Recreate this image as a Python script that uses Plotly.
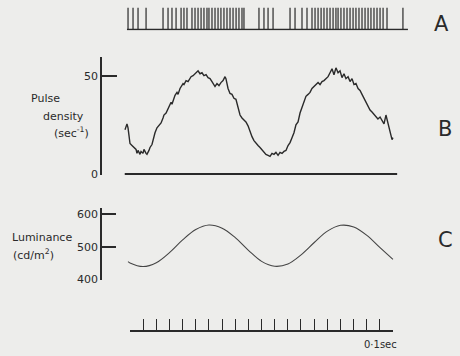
import plotly.graph_objects as go

W, H = 460, 356
INK = "#2a2a2a"
FONT = "DejaVu Sans"

# ---- data ----
# A: spike times (s)
spike_times = [-0.015, 0.023, 0.061, 0.122, 0.251, 0.289, 0.319, 0.350, 0.388, 0.410,
               0.433, 0.471, 0.494, 0.517, 0.540, 0.562, 0.585, 0.600, 0.623, 0.646,
               0.669, 0.691, 0.714, 0.737, 0.760, 0.783, 0.806, 0.828, 0.851, 0.866,
               0.980, 1.018, 1.049, 1.087, 1.216, 1.254, 1.307, 1.345, 1.383, 1.406,
               1.429, 1.452, 1.474, 1.497, 1.520, 1.543, 1.565, 1.581, 1.603, 1.626,
               1.649, 1.672, 1.695, 1.717, 1.740, 1.763, 1.786, 1.809, 1.831, 1.854,
               1.877, 1.900, 1.923, 1.953, 2.074]
spike_base = [-0.023, 2.112]

# B: pulse density (sec^-1)
dens_t = [-0.038, -0.030, -0.023, -0.015, -0.008, 0.000, 0.015, 0.030, 0.046, 0.053,
          0.061, 0.076, 0.084, 0.099, 0.106, 0.122, 0.129, 0.144, 0.152, 0.167,
          0.175, 0.190, 0.205, 0.220, 0.236, 0.251, 0.258, 0.274, 0.289, 0.296,
          0.312, 0.319, 0.334, 0.342, 0.357, 0.365, 0.380, 0.388, 0.403, 0.410,
          0.426, 0.441, 0.456, 0.464, 0.479, 0.494, 0.509, 0.517, 0.532, 0.547,
          0.562, 0.578, 0.593, 0.608, 0.623, 0.638, 0.646, 0.661, 0.676, 0.691,
          0.707, 0.722, 0.729, 0.745, 0.760, 0.775, 0.790, 0.805, 0.821, 0.836,
          0.851, 0.866, 0.881, 0.897, 0.912, 0.927, 0.942, 0.957, 0.973, 0.988,
          1.003, 1.018, 1.033, 1.049, 1.064, 1.079, 1.094, 1.109, 1.125, 1.140,
          1.155, 1.170, 1.185, 1.201, 1.216, 1.231, 1.246, 1.261, 1.277, 1.292,
          1.307, 1.322, 1.337, 1.353, 1.368, 1.383, 1.398, 1.413, 1.429, 1.444,
          1.459, 1.474, 1.489, 1.505, 1.520, 1.535, 1.550, 1.565, 1.581, 1.596,
          1.611, 1.626, 1.641, 1.657, 1.672, 1.687, 1.702, 1.717, 1.733, 1.748,
          1.763, 1.778, 1.793, 1.809, 1.824, 1.839, 1.854, 1.869, 1.884, 1.900,
          1.915, 1.930, 1.945, 1.960, 1.976, 1.991, 1.998]
dens_v = [22.5, 24.5, 25.5, 23.5, 18.5, 15.5, 14.5, 13.5, 12.5, 10.5,
          12.0, 10.0, 11.5, 10.5, 12.5, 10.5, 10.0, 12.0, 13.5, 15.0,
          17.5, 21.0, 23.5, 25.0, 26.0, 28.5, 30.0, 31.0, 33.5, 34.5,
          36.5, 35.5, 38.5, 40.0, 41.5, 40.5, 43.5, 44.5, 46.0, 45.5,
          47.5, 47.0, 48.5, 49.5, 50.0, 51.0, 52.0, 52.5, 51.0, 51.5,
          50.0, 50.5, 49.0, 48.5, 47.0, 45.5, 44.5, 46.0, 45.0, 46.5,
          47.5, 49.5, 48.5, 43.5, 41.0, 40.5, 38.5, 38.0, 34.5, 30.0,
          28.5, 27.5, 26.5, 24.5, 21.5, 19.0, 17.0, 15.5, 14.5, 13.5,
          12.5, 11.5, 10.0, 9.5, 9.0, 10.5, 10.0, 11.0, 9.5, 11.0,
          10.5, 11.5, 12.0, 14.5, 16.0, 18.5, 21.0, 25.0, 26.5, 31.0,
          33.5, 36.5, 39.5, 40.5, 41.5, 43.5, 44.5, 45.0, 46.5, 45.5,
          47.0, 47.5, 48.5, 49.5, 51.5, 53.5, 50.5, 54.0, 51.5, 52.5,
          49.0, 51.0, 48.5, 49.5, 47.0, 48.5, 45.5, 46.0, 43.5, 42.5,
          40.5, 38.5, 37.0, 34.5, 32.5, 31.5, 30.5, 29.5, 28.0, 29.0,
          27.5, 25.5, 30.0, 26.0, 22.0, 17.5, 18.5]
dens_base = [-0.04, 2.03]

# C: luminance (cd/m^2)
lum_t = [-0.015, 0.0, 0.1, 0.2, 0.3, 0.4, 0.5, 0.6, 0.7, 0.8, 0.9, 1.0,
         1.1, 1.2, 1.3, 1.4, 1.5, 1.6, 1.7, 1.8, 1.9, 1.998]
lum_v = [454, 450, 439, 451, 482, 521, 553, 567, 557, 528, 489, 455,
         440, 447, 475, 513, 548, 566, 561, 535, 497, 461]

# time marker: 0.1 s ticks over 2 s
time_range = [0.0, 2.0]
time_step = 0.1

# ---- geometry helpers (pixel -> fraction) ----
PX_PER_S = 131.6
T0_PX = 130.0
def fx(px):
    return px / W
def fy(py):
    return 1 - py / H

fig = go.Figure()

# A spikes
sx, sy = [], []
for t in spike_times:
    sx += [t, t, None]
    sy += [0, 1, None]
fig.add_trace(go.Scatter(x=sx, y=sy, mode="lines", line=dict(color=INK, width=1.2),
                         xaxis="x", yaxis="y", hoverinfo="skip"))
fig.add_trace(go.Scatter(x=spike_base, y=[0, 0], mode="lines", line=dict(color=INK, width=1.6),
                         xaxis="x", yaxis="y", hoverinfo="skip"))

# B
fig.add_trace(go.Scatter(x=dens_t, y=dens_v, mode="lines", line=dict(color=INK, width=1.4),
                         xaxis="x", yaxis="y2", hoverinfo="skip"))
fig.add_trace(go.Scatter(x=dens_base, y=[0, 0], mode="lines", line=dict(color=INK, width=2),
                         xaxis="x", yaxis="y2", hoverinfo="skip"))

# C
fig.add_trace(go.Scatter(x=lum_t, y=lum_v, mode="lines", line=dict(color="#444", width=1.1, shape="spline"),
                         xaxis="x", yaxis="y3", hoverinfo="skip"))

# dummy for time axis
fig.add_trace(go.Scatter(x=[time_range[0]], y=[-5], mode="markers", marker=dict(opacity=0),
                         xaxis="x2", yaxis="y", hoverinfo="skip", showlegend=False))

fig.update_layout(
    width=W, height=H, margin=dict(l=0, r=0, t=0, b=0),
    paper_bgcolor="#ededeb", plot_bgcolor="rgba(0,0,0,0)",
    showlegend=False,
    font=dict(family=FONT, color=INK, size=11),
    xaxis=dict(domain=[0, 1], range=[-T0_PX / PX_PER_S, (W - T0_PX) / PX_PER_S],
               visible=False, fixedrange=True),
    xaxis2=dict(domain=[fx(130), fx(393)], range=time_range, anchor="free", position=fy(337),
                showline=True, linecolor=INK, linewidth=1.5, ticks="inside", ticklen=12,
                tickwidth=1, tickcolor=INK, dtick=time_step, tick0=0, showticklabels=False,
                showgrid=False, zeroline=False),
    yaxis=dict(domain=[fy(31), fy(7)], range=[-1 / 22, 1 + 1 / 22], visible=False),
    yaxis2=dict(domain=[fy(178), fy(58)], range=[-0.5, 59.5], anchor="free", position=fx(101),
                showline=True, linecolor=INK, linewidth=1.8, ticks="inside", ticklen=15,
                tickwidth=1.5, tickcolor=INK, tickvals=[0, 50], ticktext=["0", "50"],
                showgrid=False, zeroline=False, tickfont=dict(size=11, color=INK)),
    yaxis3=dict(domain=[fy(285), fy(212)], range=[397, 618], anchor="free", position=fx(101),
                showline=True, linecolor=INK, linewidth=1.8, ticks="inside", ticklen=14,
                tickwidth=1.5, tickcolor=INK, tickvals=[400, 500, 600],
                showgrid=False, zeroline=False, tickfont=dict(size=11, color=INK)),
)

def label(text, px, py, size=11, anchor="left"):
    fig.add_annotation(text=text, x=fx(px), y=fy(py), xref="paper", yref="paper",
                       showarrow=False, xanchor=anchor, yanchor="middle",
                       font=dict(family=FONT, size=size, color=INK))

label("Pulse", 29, 100)
label("density", 41, 118)
label("(sec<sup>-1</sup>)", 52, 135)
label("Luminance", 10, 242)
label("(cd/m<sup>2</sup>)", 11, 259)
label("0·1sec", 380, 350, size=10, anchor="center")
label("A", 441, 24, size=21, anchor="center")
label("B", 445, 131, size=21, anchor="center")
label("C", 445, 244, size=21, anchor="center")

fig.write_html("out.html")
